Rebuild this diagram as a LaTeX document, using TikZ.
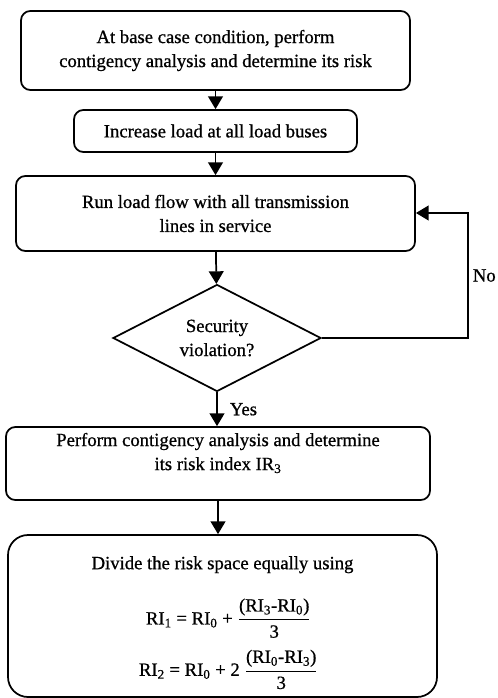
\documentclass[tikz,border=0pt]{standalone}
\usepackage{fontspec}
\setmainfont{Liberation Serif}[FakeBold=0.8]
\usetikzlibrary{arrows.meta,shapes.geometric}
\tikzset{
  stepbox/.style = {draw, line width=1.3pt, rounded corners=7pt, align=center, inner sep=2pt},
  decision/.style = {draw, diamond, aspect=2, line width=1.3pt, inner sep=0pt, align=center},
  flow/.style = {->, line width=1.3pt}
}
\tikzset{>={Triangle[length=9.5pt,width=11pt]}}
\newcommand{\RI}[1]{RI\textsubscript{#1}}

\begin{document}
\begin{tikzpicture}[x=0.75pt,y=-0.75pt,font=\fontsize{14}{18}\selectfont]
  \useasboundingbox (0,0) rectangle (497,698);
  % steps
  \node[stepbox,minimum width=291.75pt,minimum height=59.25pt] (base) at (215.5,50.5)
    {At base case condition, perform\\contigency analysis and determine its risk};
  \node[stepbox,minimum width=212.25pt,minimum height=31.5pt] (load) at (215.5,131)
    {Increase load at all load buses};
  \node[stepbox,minimum width=299.25pt,minimum height=56.25pt] (flow) at (215.5,213.5)
    {Run load flow with all transmission\\lines in service};
  \node[decision,minimum width=156pt,minimum height=80.25pt] (check) at (217,338)
    {Security\\violation?};
  \node[stepbox,minimum width=318pt,minimum height=54.75pt,text depth=18pt] (index) at (218,463.5)
    {Perform contigency analysis and determine\\its risk index IR\textsubscript{3}};
  \node[stepbox,rounded corners=15pt,minimum width=321.75pt,minimum height=121.5pt,text depth=0pt] (divide) at (222.5,616)
    {Divide the risk space equally using\\[18pt]
     \hspace*{9pt}\RI{1} = \RI{0} + $\displaystyle\frac{\mbox{(\RI{3}-\RI{0})}}{\mbox{\rule{0pt}{11pt}3}}$\\[8pt]
     \hspace*{9pt}\RI{2} = \RI{0} + 2 $\displaystyle\frac{\mbox{(\RI{0}-\RI{3})}}{\mbox{\rule{0pt}{11pt}3}}$};
  % connectors
  \draw[flow] (base) -- (load);
  \draw[flow] (load) -- (flow);
  \draw[flow] (flow) -- (check);
  \draw[flow] (check.south) -- node[right,inner sep=3pt,xshift=6pt]{Yes} (check.south |- index.north);
  \draw[flow] (index.south) -- (index.south |- divide.north);
  % loop back
  \coordinate (turn) at (468,213);
  \draw[flow] (check.east) -| node[pos=0.75,right,inner sep=3pt]{No} (turn) -- (turn -| flow.east);
\end{tikzpicture}
\end{document}
